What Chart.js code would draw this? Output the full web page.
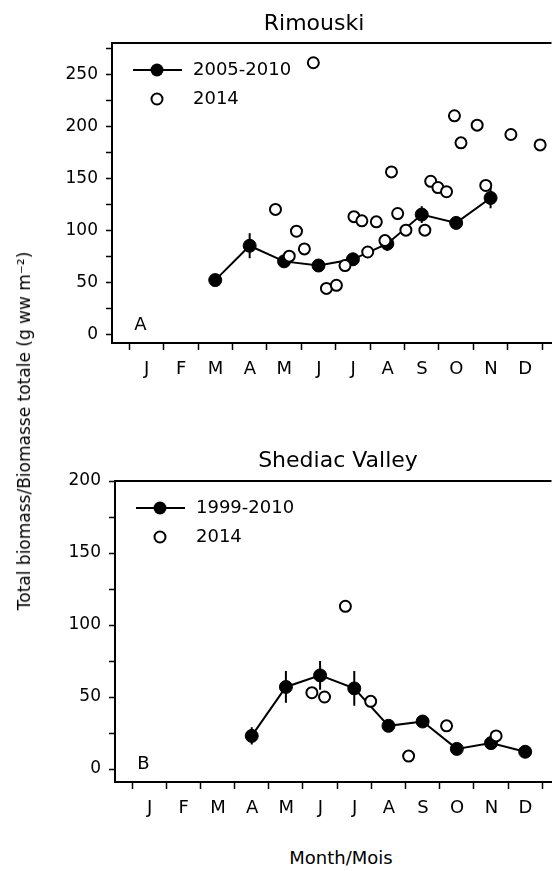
<!DOCTYPE html>
<html>
<head>
<meta charset="utf-8">
<script src="https://cdn.jsdelivr.net/npm/chart.js@4/dist/chart.umd.min.js"></script>
<style>
  body { margin: 0; background: #fff; }
  #wrap { position: relative; width: 559px; height: 871px; overflow: hidden; font-family: "DejaVu Sans", sans-serif; color: #000; }
  canvas { position: absolute; left: 0; }
  .ytitle { position: absolute; left: 24px; top: 431px; transform: translate(-50%, -50%) rotate(-90deg); white-space: nowrap; font-size: 17px; }
  .xtitle { position: absolute; left: 341px; top: 857px; transform: translate(-50%, -50%); white-space: nowrap; font-size: 18px; }
</style>
</head>
<body>
<div id="wrap">
  <canvas id="top" width="559" height="400" style="top:0"></canvas>
  <canvas id="bottom" width="559" height="430" style="top:400px"></canvas>
  <div class="ytitle">Total biomass/Biomasse totale (g ww m⁻²)</div>
  <div class="xtitle">Month/Mois</div>
</div>
<script>
const months = ['J', 'F', 'M', 'A', 'M', 'J', 'J', 'A', 'S', 'O', 'N', 'D'];
const monthTicks = [0, 1, 2, 3, 4, 5, 6, 7, 8, 9, 10, 11, 12];

// Rimouski
const rimYTicks = [0, 25, 50, 75, 100, 125, 150, 175, 200, 225, 250, 275];
const rimMeanX = [2.5, 3.5, 4.5, 5.5, 6.5, 7.5, 8.5, 9.5, 10.5];
const rimMeanY = [52, 85, 70, 66, 72, 87, 115, 107, 131];
const rimMeanErr = [0, 12, 4, 3, 4, 7, 8, 6, 10];
const rim2014X = [4.25, 4.65, 4.86, 5.09, 5.35, 5.73, 6.02, 6.27, 6.53, 6.76, 6.93, 7.18, 7.43,
                  7.62, 7.8, 8.04, 8.59, 8.76, 8.97, 9.22, 9.45, 9.64, 10.11, 10.36, 11.09, 11.94];
const rim2014Y = [120, 75, 99, 82, 261, 44, 47, 66, 113, 109, 79, 108, 90,
                  156, 116, 100, 100, 147, 141, 137, 210, 184, 201, 143, 192, 182];

// Shediac Valley
const shdYTicks = [0, 25, 50, 75, 100, 125, 150, 175, 200];
const shdMeanX = [3.5, 4.5, 5.5, 6.5, 7.5, 8.5, 9.5, 10.5, 11.5];
const shdMeanY = [23, 57, 65, 56, 30, 33, 14, 18, 12];
const shdMeanErr = [6, 11, 10, 12, 3, 3, 2, 2, 2];
const shd2014X = [5.26, 5.63, 6.24, 6.98, 8.09, 9.2, 10.65];
const shd2014Y = [53, 50, 113, 47, 9, 30, 23];

const FONT = '"DejaVu Sans", sans-serif';

function pts(xs, ys) {
  return xs.map((x, i) => ({ x: x, y: ys[i] }));
}

function errPts(xs, ys, es) {
  const out = [];
  xs.forEach((x, i) => {
    out.push({ x: x, y: ys[i] - es[i] }, { x: x, y: ys[i] + es[i] }, { x: x, y: null });
  });
  return out;
}

const decor = {
  id: 'decor',
  afterDraw(chart, args, o) {
    const ctx = chart.ctx;
    const a = chart.chartArea;
    ctx.save();
    ctx.strokeStyle = '#000';
    ctx.fillStyle = '#000';
    // top frame line
    ctx.lineWidth = 2;
    ctx.beginPath();
    ctx.moveTo(a.left - 1, a.top);
    ctx.lineTo(a.right, a.top);
    ctx.stroke();
    // title
    ctx.font = '22px ' + FONT;
    ctx.textAlign = 'center';
    ctx.textBaseline = 'alphabetic';
    ctx.fillText(o.title, o.titleX, o.titleY);
    // panel letter
    ctx.font = '18px ' + FONT;
    ctx.fillText(o.letter, a.left + 28.5, a.bottom - 13);
    // legend
    const lx = a.left + 45, y1 = a.top + 27, y2 = a.top + 56;
    ctx.lineWidth = 2;
    ctx.beginPath();
    ctx.moveTo(a.left + 21, y1);
    ctx.lineTo(a.left + 70, y1);
    ctx.stroke();
    ctx.beginPath();
    ctx.arc(lx, y1, 6.5, 0, Math.PI * 2);
    ctx.fill();
    ctx.beginPath();
    ctx.arc(lx, y2, 5.5, 0, Math.PI * 2);
    ctx.fillStyle = '#fff';
    ctx.fill();
    ctx.stroke();
    ctx.fillStyle = '#000';
    ctx.textAlign = 'left';
    ctx.textBaseline = 'middle';
    ctx.fillText(o.labels[0], a.left + 81, y1);
    ctx.fillText(o.labels[1], a.left + 81, y2);
    ctx.restore();
  }
};

function makePanel(id, cfg) {
  new Chart(document.getElementById(id), {
    type: 'scatter',
    data: {
      datasets: [
        {
          label: cfg.labels[1],
          data: pts(cfg.openX, cfg.openY),
          pointRadius: 5.5,
          pointBorderWidth: 2,
          pointBackgroundColor: '#fff',
          pointBorderColor: '#000'
        },
        {
          label: cfg.labels[0],
          data: pts(cfg.meanX, cfg.meanY),
          showLine: true,
          borderColor: '#000',
          borderWidth: 2,
          pointRadius: 6.5,
          pointBorderWidth: 1,
          pointBackgroundColor: '#000',
          pointBorderColor: '#000'
        },
        {
          label: 'err',
          data: errPts(cfg.meanX, cfg.meanY, cfg.meanErr),
          showLine: true,
          spanGaps: false,
          borderColor: '#000',
          borderWidth: 2,
          pointRadius: 0
        }
      ]
    },
    options: {
      responsive: false,
      animation: false,
      layout: { padding: { top: cfg.padTop, left: 0, right: 0, bottom: 0 } },
      scales: {
        x: {
          type: 'linear',
          min: -0.5,
          max: 12.27,
          afterBuildTicks: s => { s.ticks = monthTicks.map(v => ({ value: v })); },
          afterFit: s => { s.height = cfg.xAxisH; s.paddingLeft = 0; s.paddingRight = 0; },
          ticks: {
            autoSkip: false,
            maxRotation: 0,
            labelOffset: cfg.monthW / 2,
            padding: 9,
            color: '#000',
            font: { family: FONT, size: 18 },
            callback: v => months[v] ?? ''
          },
          grid: { drawOnChartArea: false, tickLength: 7, tickWidth: 1.5, tickColor: '#000' },
          border: { color: '#000', width: 2 }
        },
        y: {
          min: cfg.yMin,
          max: cfg.yMax,
          afterBuildTicks: s => { s.ticks = cfg.yTicks.map(v => ({ value: v })); },
          afterFit: s => { s.width = cfg.yAxisW; s.paddingTop = 0; s.paddingBottom = 0; },
          ticks: {
            padding: 8,
            color: '#000',
            font: { family: FONT, size: 17 },
            callback: v => (v % 50 === 0 ? v : '')
          },
          grid: { drawOnChartArea: false, tickLength: 6, tickWidth: 1.5, tickColor: '#000' },
          border: { color: '#000', width: 2 }
        }
      },
      plugins: {
        legend: { display: false },
        tooltip: { enabled: false },
        decor: cfg.decor
      }
    },
    plugins: [decor]
  });
}

makePanel('top', {
  labels: ['2005-2010', '2014'],
  meanX: rimMeanX, meanY: rimMeanY, meanErr: rimMeanErr,
  openX: rim2014X, openY: rim2014Y,
  yTicks: rimYTicks, yMin: -8.5, yMax: 280,
  padTop: 43, xAxisH: 57, yAxisW: 112, monthW: 35,
  decor: { title: 'Rimouski', titleX: 314, titleY: 30, letter: 'A', labels: ['2005-2010', '2014'] }
});

makePanel('bottom', {
  labels: ['1999-2010', '2014'],
  meanX: shdMeanX, meanY: shdMeanY, meanErr: shdMeanErr,
  openX: shd2014X, openY: shd2014Y,
  yTicks: shdYTicks, yMin: -9, yMax: 200,
  padTop: 81, xAxisH: 48, yAxisW: 115, monthW: 34.9,
  decor: { title: 'Shediac Valley', titleX: 338, titleY: 67, letter: 'B', labels: ['1999-2010', '2014'] }
});
</script>
</body>
</html>
